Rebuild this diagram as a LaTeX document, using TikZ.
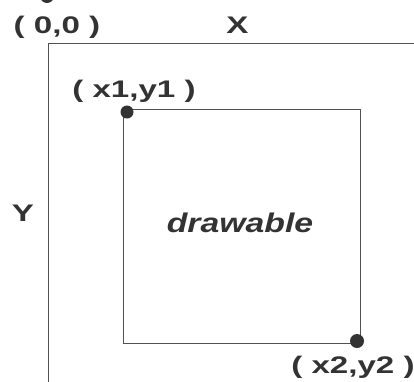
\documentclass[tikz,border=0pt]{standalone}
\usepackage{fontspec}
\newfontfamily\labfont[FakeStretch=1.38]{Liberation Sans}
\newfontfamily\drwfont[FakeStretch=1.25]{Liberation Sans}
\definecolor{ink}{HTML}{333333}
\begin{document}
\begin{tikzpicture}[x=1pt,y=-1pt,
  frame/.style={draw=ink!85,line width=0.9pt},
  lab/.style={inner sep=0pt,anchor=base,text=ink,font=\labfont\bfseries\fontsize{24}{28}\selectfont},
  pt/.style={fill=ink}]
\useasboundingbox (0,0) rectangle (414,381);
\clip (0,0) rectangle (414,381);
% outer window (extends past the picture)
\draw[frame] (420,43) -- (48,43) -- (48,390);
% drawable area
\coordinate (p1) at (123,109);
\coordinate (p2) at (360,343);
\draw[frame] (p1) rectangle (p2);
% dots
\coordinate (o) at (47,-4);
\coordinate (d1) at (127,112);
\coordinate (d2) at (357,341);
\fill[pt] (o) circle (7);
\fill[pt] (d1) circle (6.5);
\fill[pt] (d2) circle (7);
% labels
\node[lab] (origin) at (57,33) {( 0,0 )};
\node[lab] (xl) at (237.5,33) {X};
\node[lab] (tl) at (134,97) {( x1,y1 )};
\node[lab] (yl) at (23,221) {Y};
\node[inner sep=0pt,anchor=base,text=ink,font=\drwfont\bfseries\itshape\fontsize{27}{30}\selectfont] (dr) at (240,232) {drawable};
\node[lab] (br) at (353,373) {( x2,y2 )};
\end{tikzpicture}
\end{document}
